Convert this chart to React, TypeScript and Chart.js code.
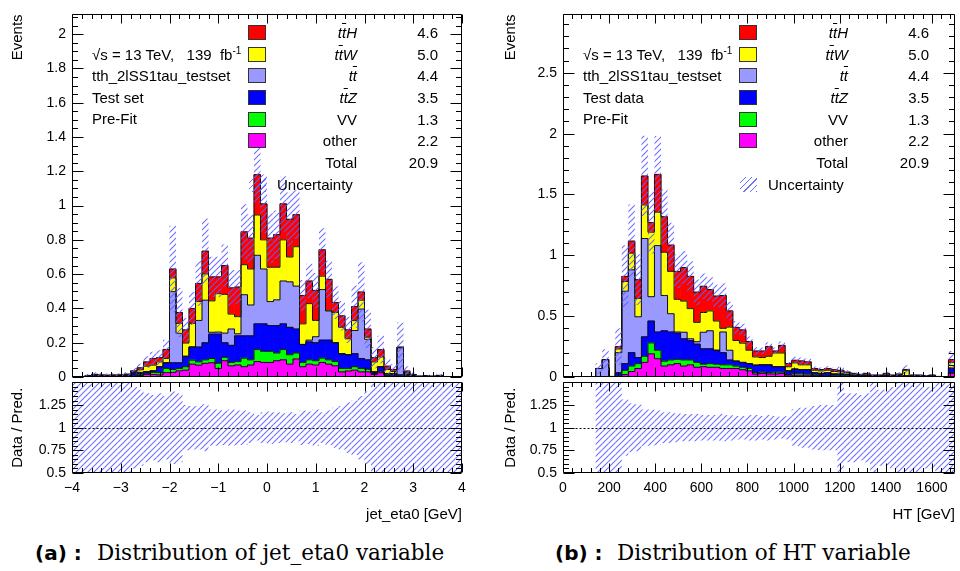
import React, { useEffect, useRef } from "react";
import { Chart, registerables } from "chart.js";

Chart.register(...registerables);
const SANS = "'Liberation Sans', Arial, Helvetica, sans-serif";
Chart.defaults.font.family = SANS;
Chart.defaults.color = "#000";

// ---------------- data ----------------
const N_BINS = 60;
const ETA_RANGE: [number, number] = [-4, 4];
const HT_RANGE: [number, number] = [0, 1700];

// legend (top -> bottom)
const PROCESS_NAMES = ["ttH", "ttW", "tt", "ttZ", "VV", "other"];
const PROCESS_YIELDS = ["4.6", "5.0", "4.4", "3.5", "1.3", "2.2"];
const PROCESS_COLORS = ["#ff0000", "#ffff00", "#9999ff", "#0000ff", "#00ff00", "#ff00ff"];
const TOTAL_YIELD = "20.9";
// stack order bottom -> top: other, VV, ttZ, tt, ttW, ttH
const STACK_COLORS = ["#ff00ff", "#00ff00", "#0000ff", "#9999ff", "#ffff00", "#ff0000"];

// ---- jet_eta0 ----
const etaOther = [0,0,0.002,0.003,0.002,0.002,0.002,0.003,0.004,0.006,
 0.008,0.015,0.015,0.012,0.025,0.027,0.036,0.040,0.075,0.069,
 0.080,0.083,0.050,0.095,0.065,0.070,0.060,0.070,0.090,0.085,
 0.085,0.095,0.100,0.075,0.105,0.060,0.075,0.070,0.085,0.075,
 0.065,0.030,0.035,0.040,0.030,0.030,0.015,0.025,0.008,0.005,
 0.003,0.004,0.003,0.001,0.002,0.001,0.002,0,0,0];
const etaVV = [0,0,0.001,0.001,0.001,0.001,0.001,0.001,0.002,0.004,
 0.004,0.006,0.012,0.013,0.025,0.017,0.014,0.020,0.023,0.019,
 0.020,0.025,0.030,0.020,0.020,0.020,0.050,0.030,0.070,0.065,
 0.065,0.045,0.060,0.055,0.035,0.025,0.025,0.025,0.025,0.025,
 0.025,0.020,0.015,0.020,0.020,0.015,0.005,0.006,0.004,0.005,
 0.003,0.004,0.002,0.001,0.001,0.001,0.001,0.001,0,0];
const etaTTZ = [0,0,0.002,0.004,0.003,0.002,0.003,0.003,0.004,0.015,
 0.010,0.010,0.009,0.035,0.033,0.039,0.033,0.061,0.077,0.087,
 0.100,0.142,0.170,0.085,0.100,0.150,0.130,0.140,0.150,0.160,
 0.150,0.160,0.150,0.160,0.140,0.105,0.105,0.105,0.105,0.115,
 0.110,0.086,0.080,0.076,0.058,0.055,0.010,0.029,0.008,0.010,
 0.006,0.006,0.003,0.001,0.002,0.001,0.003,0,0,0];
const etaTT = [0,0,0.001,0.003,0.002,0.002,0.001,0.001,0.001,0,
 0.005,0,0,0,0,0.415,0.172,0,0,0.155,
 0.248,0.011,0.012,0.056,0.095,0.012,0.240,0.180,0.400,0.320,
 0.140,0.150,0.250,0.265,0.250,0,0.010,0.035,0.295,0.170,
 0,0,0,0.135,0.288,0.120,0,0,0,0,
 0.158,0.004,0.002,0.001,0.001,0,0.001,0,0,0];
const etaTTW = [0,0,0.001,0.002,0.002,0.002,0.002,0.003,0.002,0.005,
 0.015,0.032,0.033,0.028,0.025,0.080,0.058,0.077,0.138,0.110,
 0.153,0.183,0.224,0.226,0.087,0.100,0.175,0.210,0.235,0.170,
 0.200,0.190,0.240,0.145,0.230,0.120,0.213,0.095,0.078,0.005,
 0.177,0.154,0.093,0.058,0.052,0.012,0.058,0.057,0.024,0.012,
 0.002,0.007,0.002,0,0.001,0.001,0.001,0.001,0,0];
const etaTTH = [0,0.003,0.002,0.003,0.002,0.002,0.003,0.002,0.004,0.006,
 0.012,0.025,0.039,0.025,0.053,0.052,0.063,0.077,0.087,0.106,
 0.133,0.140,0.098,0.168,0.153,0.173,0.192,0.180,0.235,0.210,
 0.170,0.190,0.210,0.220,0.187,0.166,0.132,0.175,0.154,0.180,
 0.057,0.067,0.052,0.082,0.048,0.048,0.025,0.043,0.019,0.012,
 0.003,0.010,0.003,0.001,0.001,0.001,0.002,0,0,0];
const etaRelErr = [1,1,0.9,0.7,0.8,0.8,0.8,0.7,0.6,0.45,
 0.42,0.38,0.36,0.38,0.35,0.4,0.38,0.25,0.24,0.24,
 0.26,0.2,0.2,0.19,0.2,0.19,0.19,0.17,0.14,0.17,
 0.18,0.17,0.16,0.17,0.15,0.19,0.18,0.2,0.17,0.19,
 0.22,0.24,0.28,0.3,0.35,0.4,0.55,0.5,0.7,0.7,
 0.82,0.8,0.9,1,0.9,1,0.9,1,1,1];

// ---- HT ----
const htOther = [0,0,0,0,0,0,0,0,0.003,0.020,
 0.045,0.070,0.120,0.190,0.150,0.090,0.100,0.110,0.090,0.100,
 0.080,0.085,0.080,0.080,0.070,0.070,0.070,0.060,0.050,0.024,
 0.030,0.025,0.025,0.030,0.015,0.015,0.015,0.015,0.010,0.008,
 0.008,0.005,0.005,0.005,0.004,0.003,0.003,0.002,0.002,0.002,
 0.002,0.002,0.002,0.002,0.002,0.002,0.002,0.001,0,0.030];
const htVV = [0,0,0,0,0,0,0,0,0.005,0.035,
 0.045,0.040,0.050,0.090,0.070,0.040,0.040,0.035,0.050,0.040,
 0.040,0.020,0.030,0.025,0.030,0.030,0.020,0.020,0.020,0.011,
 0.010,0.010,0.015,0.010,0.005,0.015,0.015,0.010,0.005,0.004,
 0.004,0.005,0.005,0.005,0.004,0.003,0.002,0.002,0.002,0.002,
 0.002,0.002,0.002,0.002,0.002,0.001,0.002,0,0.001,0.005];
const htTTZ = [0,0,0,0,0,0,0,0.002,0.027,0.055,
 0.110,0.050,0.160,0.180,0.150,0.250,0.230,0.215,0.174,0.160,
 0.150,0.127,0.122,0.115,0.100,0.040,0.040,0.040,0.040,0.062,
 0.060,0.065,0.045,0.044,0.030,0.035,0.030,0.035,0.020,0.018,
 0.023,0.015,0.015,0.012,0.007,0.006,0.007,0.004,0.004,0.008,
 0.004,0.008,0.006,0.004,0.004,0.003,0.004,0.001,0,0.035];
const htTT = [0,0,0,0,0,0.070,0.143,0.002,0.165,0.595,
 0.681,0.335,0.808,0.200,0.710,0.290,0.150,0.010,0.054,0.014,
 0.020,0.136,0.148,0,0.170,0.080,0,0,0,0,
 0,0,0,0,0,0,0,0,0,0,
 0,0,0,0,0,0,0,0,0,0,
 0,0,0,0,0,0,0,0,0,0.005];
const htTTW = [0,0,0,0,0,0,0,0,0.030,0.080,
 0.136,0.151,0.276,0.530,0.274,0.355,0.348,0.268,0.256,0.248,
 0.159,0.162,0.163,0.240,0.030,0.190,0.170,0.158,0.110,0.068,
 0.060,0.070,0.112,0.113,0.034,0.051,0.040,0.040,0.020,0.020,
 0.020,0.020,0.017,0.013,0.010,0.006,0.006,0.004,0.004,0.006,
 0.004,0.008,0.045,0.004,0.004,0.003,0.004,0.002,0.001,0.045];
const htTTH = [0,0,0,0,0,0,0,0.001,0.020,0.042,
 0.100,0.154,0.238,0.080,0.311,0.292,0.216,0.230,0.276,0.265,
 0.248,0.216,0.176,0.205,0.270,0.133,0.108,0.109,0.072,0.049,
 0.054,0.081,0.017,0.063,0.027,0.022,0.032,0.024,0.015,0.012,
 0.015,0.015,0.013,0.005,0.005,0.004,0.012,0.004,0.004,0.012,
 0.004,0.005,0.007,0.004,0.004,0.003,0.004,0.001,0.001,0.023];
const htRelErr = [0,0,0,0,0,0.6,0.6,0.8,0.6,0.31,
 0.27,0.26,0.2,0.2,0.19,0.17,0.17,0.16,0.15,0.15,
 0.15,0.14,0.14,0.14,0.15,0.14,0.13,0.13,0.14,0.14,
 0.13,0.14,0.13,0.12,0.13,0.2,0.22,0.22,0.24,0.25,
 0.25,0.25,0.55,0.38,0.38,0.36,0.38,0.55,0.42,0.42,
 0.45,0.6,0.55,0.6,0.55,0.45,0.45,0.6,0.6,0.5];

// ---------------- helpers ----------------
const HATCH_COLOR = "rgba(95,95,255,0.9)";

function makeHatch(): any {
  const s = 6;
  const c = document.createElement("canvas");
  c.width = s;
  c.height = s;
  const g = c.getContext("2d");
  if (!g) return "rgba(95,95,255,0.3)";
  g.strokeStyle = HATCH_COLOR;
  g.lineWidth = 1.1;
  g.beginPath();
  g.moveTo(0, s);
  g.lineTo(s, 0);
  g.moveTo(-1, 1);
  g.lineTo(1, -1);
  g.moveTo(s - 1, s + 1);
  g.lineTo(s + 1, s - 1);
  g.stroke();
  return g.createPattern(c, "repeat");
}

function tickValues(min: number, max: number, step: number) {
  const out: number[] = [];
  for (let k = Math.ceil(min / step - 1e-6); k * step <= max + 1e-6; k++) out.push(k * step);
  return out;
}
const isMajor = (v: number, step: number) => Math.abs(v / step - Math.round(v / step)) < 1e-6;

function makeFrame(o: { xMajor: number; xMinor: number; yMajor: number; yMinor: number; xLen: number; yLen: number; unity?: boolean }) {
  return {
    id: "rootFrame",
    afterDatasetsDraw(chart: any) {
      const { ctx, chartArea: a } = chart;
      const xs = chart.scales.x;
      const ys = chart.scales.y;
      const L = Math.round(a.left) + 0.5;
      const R = Math.round(a.right) - 0.5;
      const T = Math.round(a.top) + 0.5;
      const B = Math.round(a.bottom) - 0.5;
      ctx.save();
      if (o.unity) {
        const py = Math.round(ys.getPixelForValue(1)) + 0.5;
        ctx.beginPath();
        ctx.setLineDash([2, 2]);
        ctx.strokeStyle = "#000";
        ctx.lineWidth = 1;
        ctx.moveTo(L, py);
        ctx.lineTo(R, py);
        ctx.stroke();
        ctx.setLineDash([]);
      }
      ctx.beginPath();
      ctx.strokeStyle = "#000";
      ctx.lineWidth = 1;
      for (const v of tickValues(xs.min, xs.max, o.xMinor)) {
        const len = isMajor(v, o.xMajor) ? o.xLen : o.xLen / 2;
        const px = Math.round(xs.getPixelForValue(v)) + 0.5;
        ctx.moveTo(px, B);
        ctx.lineTo(px, B - len);
        ctx.moveTo(px, T);
        ctx.lineTo(px, T + len);
      }
      for (const v of tickValues(ys.min, ys.max, o.yMinor)) {
        const len = isMajor(v, o.yMajor) ? o.yLen : o.yLen / 2;
        const py = Math.round(ys.getPixelForValue(v)) + 0.5;
        ctx.moveTo(L, py);
        ctx.lineTo(L + len, py);
        ctx.moveTo(R, py);
        ctx.lineTo(R - len, py);
      }
      ctx.rect(L, T, R - L, B - T);
      ctx.stroke();
      ctx.restore();
    },
  };
}

const fmtNum = (v: any) => {
  const n = Math.round(Number(v) * 1000) / 1000;
  return n < 0 ? "\u2212" + Math.abs(n) : String(n);
};

type PanelProps = {
  canvasLeft: number;
  axisWidth: number;
  rightPad: number;
  range: [number, number];
  series: number[][];
  relErr: number[];
  yMax: number;
  yStep: number;
  yMinor: number;
  xStep: number;
  xMinor: number;
  xTitle: string;
  titlePad: number;
};

function Panel(p: PanelProps) {
  const mainRef = useRef<HTMLCanvasElement | null>(null);
  const ratioRef = useRef<HTMLCanvasElement | null>(null);

  useEffect(() => {
    if (!mainRef.current || !ratioRef.current) return;
    const [lo, hi] = p.range;
    const w = (hi - lo) / N_BINS;
    const centers = Array.from({ length: N_BINS }, (_, i) => lo + (i + 0.5) * w);
    const cum: number[][] = [];
    p.series.forEach((s, k) => cum.push(s.map((v, i) => v + (k > 0 ? cum[k - 1][i] : 0))));
    const total = cum[cum.length - 1];
    const hatch = makeHatch();
    const barCommon = { type: "bar", borderWidth: 0, grouped: false, barPercentage: 1, categoryPercentage: 1 };

    const mainSets: any[] = [];
    cum.forEach((c, k) => {
      mainSets.push({
        ...barCommon,
        data: centers.map((x, i) => ({ x, y: c[i] })),
        backgroundColor: STACK_COLORS[k],
        order: 10 + k,
      });
      mainSets.push({
        type: "line",
        data: [{ x: lo, y: c[0] }, ...centers.map((x, i) => ({ x, y: c[i] })), { x: hi, y: c[N_BINS - 1] }],
        borderColor: "#111",
        borderWidth: 1,
        pointRadius: 0,
        stepped: "middle",
        fill: false,
        order: 5,
      });
    });
    mainSets.push({
      ...barCommon,
      inflateAmount: 0,
      data: centers.map((x, i) => ({
        x,
        y: total[i] > 0 ? [total[i] * (1 - p.relErr[i]), total[i] * (1 + p.relErr[i])] : null,
      })),
      backgroundColor: hatch,
      order: 1,
    });

    const common = {
      responsive: false,
      animation: false,
      events: [],
      plugins: { legend: { display: false }, tooltip: { enabled: false } },
    };

    const main = new Chart(mainRef.current, {
      type: "bar",
      data: { datasets: mainSets },
      options: {
        ...common,
        layout: { padding: { left: 0, right: p.rightPad, top: 10, bottom: 23 } },
        scales: {
          x: { type: "linear", min: lo, max: hi, offset: false, display: false, ticks: { stepSize: p.xStep } },
          y: {
            type: "linear",
            min: 0,
            max: p.yMax,
            grid: { display: false, drawTicks: false },
            border: { display: false },
            ticks: { stepSize: p.yStep, includeBounds: false, padding: 6, font: { size: 14 }, color: "#000", callback: fmtNum },
            title: { display: true, text: "Events", align: "end", font: { size: 15 }, color: "#000", padding: { top: p.titlePad, bottom: 0 } },
            afterFit: (s: any) => {
              s.width = p.axisWidth;
            },
          },
        },
      } as any,
      plugins: [makeFrame({ xMajor: p.xStep, xMinor: p.xMinor, yMajor: p.yStep, yMinor: p.yMinor, xLen: 9, yLen: 11 })],
    } as any);

    const ratio = new Chart(ratioRef.current, {
      type: "bar",
      data: {
        datasets: [
          {
            ...barCommon,
            inflateAmount: 0,
            data: centers.map((x, i) => ({ x, y: p.relErr[i] > 0 ? [1 - p.relErr[i], 1 + p.relErr[i]] : null })),
            backgroundColor: hatch,
            order: 1,
          },
        ],
      },
      options: {
        ...common,
        layout: { padding: { left: 0, right: p.rightPad, top: 10, bottom: 0 } },
        scales: {
          x: {
            type: "linear",
            min: lo,
            max: hi,
            offset: false,
            grid: { display: false, drawTicks: false },
            border: { display: false },
            ticks: { stepSize: p.xStep, includeBounds: false, autoSkip: false, maxRotation: 0, padding: 7, font: { size: 14 }, color: "#000", callback: fmtNum },
            title: { display: true, text: p.xTitle, align: "end", font: { size: 15 }, color: "#000", padding: { top: 0, bottom: 6 } },
            afterFit: (s: any) => {
              s.height = 57;
            },
          },
          y: {
            type: "linear",
            min: 0.5,
            max: 1.5,
            grid: { display: false, drawTicks: false },
            border: { display: false },
            ticks: {
              stepSize: 0.25,
              padding: 6,
              font: { size: 14 },
              color: "#000",
              callback: (v: any) => (Math.abs(Number(v) - 1.5) < 1e-6 ? "" : fmtNum(v)),
            },
            title: { display: true, text: "Data / Pred.", align: "center", font: { size: 15 }, color: "#000", padding: { top: p.titlePad, bottom: 0 } },
            afterFit: (s: any) => {
              s.width = p.axisWidth;
            },
          },
        },
      } as any,
      plugins: [makeFrame({ xMajor: p.xStep, xMinor: p.xMinor, yMajor: 0.25, yMinor: 0.05, xLen: 9, yLen: 11, unity: true })],
    } as any);

    return () => {
      main.destroy();
      ratio.destroy();
    };
  }, []);

  return (
    <>
      <canvas
        ref={mainRef}
        width={480}
        height={400}
        style={{ position: "absolute", left: p.canvasLeft, top: 0, width: 480, height: 400 }}
      />
      <canvas
        ref={ratioRef}
        width={480}
        height={162}
        style={{ position: "absolute", left: p.canvasLeft, top: 368, width: 480, height: 162 }}
      />
    </>
  );
}

const LEG_ROWS = [33, 55, 76, 98, 120, 141, 163, 185];

function renderName(n: string) {
  if (n.startsWith("tt")) {
    return (
      <span style={{ fontStyle: "italic" }}>
        t<span style={{ textDecoration: "overline" }}>t</span>
        {n.slice(2)}
      </span>
    );
  }
  return n;
}

function Legend({ dx, dataLabel }: { dx: number; dataLabel: string }) {
  const txt: any = {
    position: "absolute",
    height: 20,
    lineHeight: "20px",
    fontSize: 15,
    whiteSpace: "pre",
    color: "#000",
    fontFamily: SANS,
  };
  const info = [
    <span key="s">
      {"\u221As = 13 TeV,   139  fb"}
      <sup style={{ fontSize: 10, verticalAlign: "6px", lineHeight: 0 }}>-1</sup>
    </span>,
    "tth_2lSS1tau_testset",
    dataLabel,
    "Pre-Fit",
  ];
  const infoRows = [55, 76, 98, 119];
  return (
    <>
      {PROCESS_NAMES.map((n, k) => (
        <React.Fragment key={n}>
          <div
            style={{
              position: "absolute",
              left: 248 + dx,
              top: LEG_ROWS[k] - 8,
              width: 16,
              height: 13,
              background: PROCESS_COLORS[k],
              border: "1px solid #333",
            }}
          />
          <div style={{ ...txt, right: 960 - (357 + dx), top: LEG_ROWS[k] - 10, textAlign: "right" }}>{renderName(n)}</div>
          <div style={{ ...txt, right: 960 - (438 + dx), top: LEG_ROWS[k] - 10, textAlign: "right" }}>{PROCESS_YIELDS[k]}</div>
        </React.Fragment>
      ))}
      <div style={{ ...txt, right: 960 - (357 + dx), top: LEG_ROWS[6] - 10 }}>Total</div>
      <div style={{ ...txt, right: 960 - (438 + dx), top: LEG_ROWS[6] - 10 }}>{TOTAL_YIELD}</div>
      <div
        style={{
          position: "absolute",
          left: 249 + dx,
          top: LEG_ROWS[7] - 8,
          width: 17,
          height: 15,
          background: `repeating-linear-gradient(-45deg, ${HATCH_COLOR} 0px, ${HATCH_COLOR} 1px, transparent 1px, transparent 4.5px)`,
        }}
      />
      <div style={{ ...txt, left: 277 + dx, top: LEG_ROWS[7] - 10 }}>Uncertainty</div>
      {info.map((t, k) => (
        <div key={k} style={{ ...txt, left: 92 + dx, top: infoRows[k] - 10 }}>
          {t}
        </div>
      ))}
    </>
  );
}

function Caption({ x, tag, text }: { x: number; tag: string; text: string }) {
  return (
    <>
      <div
        style={{
          position: "absolute",
          left: x,
          top: 539,
          height: 28,
          lineHeight: "28px",
          fontFamily: "'DejaVu Sans', sans-serif",
          fontWeight: "bold",
          fontSize: 20,
          whiteSpace: "pre",
          color: "#000",
        }}
      >
        {tag + " :"}
      </div>
      <div
        style={{
          position: "absolute",
          left: x + 62,
          top: 539,
          height: 28,
          lineHeight: "28px",
          fontFamily: "'DejaVu Serif', serif",
          fontSize: 21.5,
          whiteSpace: "pre",
          color: "#000",
        }}
      >
        {text}
      </div>
    </>
  );
}

export default function App() {
  return (
    <div
      style={{
        position: "absolute",
        left: 0,
        top: 0,
        width: 960,
        height: 571,
        background: "#fff",
        overflow: "hidden",
        fontFamily: SANS,
      }}
    >
      <Panel
        canvasLeft={0}
        axisWidth={72}
        rightPad={18}
        range={ETA_RANGE}
        series={[etaOther, etaVV, etaTTZ, etaTT, etaTTW, etaTTH]}
        relErr={etaRelErr}
        yMax={2.115}
        yStep={0.2}
        yMinor={0.05}
        xStep={1}
        xMinor={0.2}
        xTitle="jet_eta0 [GeV]"
        titlePad={9}
      />
      <Panel
        canvasLeft={480}
        axisWidth={83}
        rightPad={5}
        range={HT_RANGE}
        series={[htOther, htVV, htTTZ, htTT, htTTW, htTTH]}
        relErr={htRelErr}
        yMax={2.98}
        yStep={0.5}
        yMinor={0.1}
        xStep={200}
        xMinor={40}
        xTitle="HT [GeV]"
        titlePad={22}
      />
      <Legend dx={0} dataLabel="Test set" />
      <Legend dx={491} dataLabel="Test data" />
      <Caption x={35} tag="(a)" text="Distribution of jet_eta0 variable" />
      <Caption x={555} tag="(b)" text="Distribution of HT variable" />
    </div>
  );
}
